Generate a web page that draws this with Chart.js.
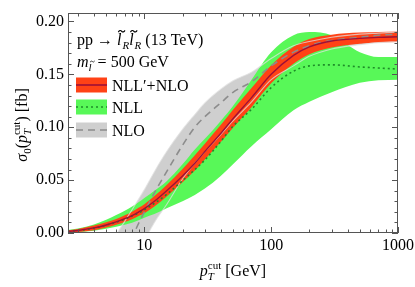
<!DOCTYPE html>
<html>
<head>
<meta charset="utf-8">
<script src="https://cdn.jsdelivr.net/npm/chart.js@4.4.1/dist/chart.umd.min.js"></script>
<style>
  html, body { margin: 0; padding: 0; background: #fff; }
</style>
</head>
<body>
<canvas id="chart" width="415" height="287"></canvas>
<script>

// ---------------------------------------------------------------------------
// Data (pT cut in GeV, sigma_0 in fb)
// ---------------------------------------------------------------------------

var pt = [2.5, 3, 4, 5, 6, 7, 8, 9, 10, 12, 15, 20, 25, 30, 40, 50, 70, 100, 150, 200, 300, 500, 700, 1000];

// NLL'+NLO (red band)
var resumMid  = [0.0015, 0.0024, 0.0048, 0.0076, 0.0105, 0.0135, 0.0165, 0.0198, 0.0230, 0.0300, 0.0400, 0.0540, 0.0660, 0.0770, 0.0940, 0.1080, 0.1280, 0.1500, 0.1680, 0.1760, 0.1815, 0.1840, 0.1850, 0.1855];
var resumLow  = [0.0004, 0.0010, 0.0027, 0.0052, 0.0078, 0.0104, 0.0130, 0.0160, 0.0187, 0.0250, 0.0345, 0.0480, 0.0590, 0.0695, 0.0860, 0.0995, 0.1190, 0.1415, 0.1600, 0.1690, 0.1755, 0.1790, 0.1800, 0.1805];
var resumHigh = [0.0027, 0.0039, 0.0070, 0.0102, 0.0133, 0.0167, 0.0202, 0.0238, 0.0273, 0.0350, 0.0455, 0.0605, 0.0735, 0.0845, 0.1020, 0.1165, 0.1370, 0.1585, 0.1760, 0.1835, 0.1875, 0.1895, 0.1900, 0.1905];

// NLL (green band)
var nllMid  = [0.0015, 0.0024, 0.0046, 0.0074, 0.0102, 0.0130, 0.0160, 0.0190, 0.0220, 0.0280, 0.0365, 0.0495, 0.0600, 0.0690, 0.0865, 0.1010, 0.1170, 0.1375, 0.1530, 0.1580, 0.1590, 0.1570, 0.1560, 0.1550];
var nllLow  = [0.0005, 0.0009, 0.0022, 0.0040, 0.0058, 0.0078, 0.0098, 0.0120, 0.0145, 0.0180, 0.0235, 0.0300, 0.0360, 0.0420, 0.0540, 0.0650, 0.0820, 0.0980, 0.1160, 0.1240, 0.1330, 0.1420, 0.1445, 0.1450];
var nllHigh = [0.0028, 0.0042, 0.0080, 0.0125, 0.0170, 0.0210, 0.0250, 0.0290, 0.0330, 0.0400, 0.0490, 0.0650, 0.0790, 0.0890, 0.1060, 0.1200, 0.1450, 0.1710, 0.1870, 0.1900, 0.1870, 0.1710, 0.1665, 0.1665];

// NLO (gray band)
var nloPt   = [5, 6, 7, 8, 9, 10, 12, 15, 20, 25, 30, 40, 50, 70, 100, 150, 200, 300, 500, 700, 1000];
var nloMid  = [-0.045, -0.030, -0.016, -0.004, 0.009, 0.020, 0.038, 0.058, 0.083, 0.100, 0.110, 0.123, 0.133, 0.143, 0.158, 0.171, 0.177, 0.182, 0.185, 0.187, 0.188];
var nloHigh = [-0.022, -0.002, 0.011, 0.022, 0.032, 0.041, 0.058, 0.077, 0.098, 0.112, 0.123, 0.136, 0.144, 0.152, 0.165, 0.177, 0.181, 0.185, 0.188, 0.189, 0.190];
var nloLow  = [-0.075, -0.058, -0.044, -0.032, -0.021, -0.008, 0.010, 0.027, 0.051, 0.066, 0.077, 0.093, 0.106, 0.124, 0.145, 0.158, 0.167, 0.174, 0.178, 0.180, 0.181];

// axis ticks
var xMajor = [10, 100, 1000];
var xMinor = [3, 4, 5, 6, 7, 8, 9, 20, 30, 40, 50, 60, 70, 80, 90, 200, 300, 400, 500, 600, 700, 800, 900];
var yMajor = [0, 0.05, 0.10, 0.15, 0.20];
var yMinorStep = 0.01;

// ---------------------------------------------------------------------------
// Styles
// ---------------------------------------------------------------------------

var RED = '#ff4216', RED_LINE = '#9e1038';
var GREEN = '#58f858', GREEN_LINE = '#1e8c28';
var GRAY = '#cfcfcf', GRAY_LINE = '#8c8c8c', GRAY_EDGE = 'rgba(225,225,225,0.75)';
var FRAME = '#555';
var SERIF = '"Liberation Serif", "DejaVu Serif", serif';

function xy(xs, ys) {
  return xs.map(function (x, i) { return { x: x, y: ys[i] }; });
}

function line(data, color, width, dash, order, fill, bg) {
  return {
    data: data,
    borderColor: color,
    borderWidth: width,
    borderDash: dash || [],
    backgroundColor: bg || 'transparent',
    fill: fill === undefined ? false : fill,
    pointRadius: 0,
    cubicInterpolationMode: 'monotone',
    order: order
  };
}

var datasets = [
  line(xy(pt, resumMid), RED_LINE, 1.4, null, 0),              // 0
  line(xy(pt, nllMid), GREEN_LINE, 1.6, [2, 3], 1),            // 1
  line(xy(nloPt, nloMid), GRAY_LINE, 1.6, [7, 5], 2),          // 2
  line(xy(nloPt, nloHigh), GRAY_EDGE, 1.1, null, 3),           // 3
  line(xy(nloPt, nloLow), GRAY_EDGE, 1.1, null, 3),            // 4
  line(xy(pt, resumLow), 'transparent', 0, null, 5),           // 5
  line(xy(pt, resumHigh), 'transparent', 0, null, 5, 5, RED),  // 6
  line(xy(pt, nllLow), 'transparent', 0, null, 6),             // 7
  line(xy(pt, nllHigh), 'transparent', 0, null, 6, 7, GREEN),  // 8
  line(xy(nloPt, nloLow), 'transparent', 0, null, 7),          // 9
  line(xy(nloPt, nloHigh), 'transparent', 0, null, 7, 9, GRAY) // 10
];

// ---------------------------------------------------------------------------
// Text with sub/superscripts (and a drawn tilde), on the canvas
// ---------------------------------------------------------------------------

function fontOf(p) {
  return (p.it ? 'italic ' : '') + (p.size || 16) + 'px ' + SERIF;
}

function drawTilde(ctx, cx, top, size) {
  let w = size * 0.42, a = size * 0.055;
  let x0 = cx - w / 2;
  ctx.save();
  ctx.lineWidth = size * 0.07;
  ctx.strokeStyle = ctx.fillStyle;
  ctx.beginPath();
  ctx.moveTo(x0, top + a);
  ctx.quadraticCurveTo(x0 + w * 0.25, top - a * 2, x0 + w * 0.5, top);
  ctx.quadraticCurveTo(x0 + w * 0.75, top + a * 2, x0 + w, top - a);
  ctx.stroke();
  ctx.restore();
}

function drawRich(ctx, x, y, parts, align) {
  let w = 0, prev = null;
  parts.forEach(function (p) {
    ctx.font = fontOf(p);
    p.w = ctx.measureText(p.t).width + (p.pad || 0);
    if (p.stack && prev) { w += Math.max(0, p.w - prev.w); } else { w += p.w; }
    prev = p;
  });
  let cx = align === 'center' ? x - w / 2 : x;
  prev = null;
  parts.forEach(function (p) {
    ctx.font = fontOf(p);
    let s = p.size || 16;
    if (p.stack && prev) {
      cx -= prev.w;
      ctx.fillText(p.t, cx, y + (p.dy || 0));
      cx += Math.max(prev.w, p.w);
    } else {
      ctx.fillText(p.t, cx, y + (p.dy || 0));
      if (p.tilde) drawTilde(ctx, cx + p.w / 2 + s * 0.12, y + (p.dy || 0) - s * 0.86, s);
      cx += p.w;
    }
    prev = p;
  });
}

function ptCut() {
  return [
    { t: 'p', it: true },
    { t: 'T', it: true, size: 11, dy: 4 },
    { t: 'cut', size: 11, dy: -7, stack: true }
  ];
}

// ---------------------------------------------------------------------------
// Frame, inward ticks, legend and labels
// ---------------------------------------------------------------------------

var decor = {
  id: 'decor',
  afterDraw: function (chart) {
    let ctx = chart.ctx;
    let a = chart.chartArea;
    let xs = chart.scales.x, ys = chart.scales.y;

    ctx.save();
    ctx.strokeStyle = FRAME;
    ctx.lineWidth = 1;
    ctx.strokeRect(a.left + 0.5, a.top + 0.5, a.right - a.left - 1, a.bottom - a.top - 1);

    ctx.beginPath();
    function xTick(v, len) {
      let px = Math.round(xs.getPixelForValue(v)) + 0.5;
      ctx.moveTo(px, a.bottom); ctx.lineTo(px, a.bottom - len);
      ctx.moveTo(px, a.top); ctx.lineTo(px, a.top + len);
    }
    function yTick(v, len) {
      let py = Math.round(ys.getPixelForValue(v)) + 0.5;
      ctx.moveTo(a.left, py); ctx.lineTo(a.left + len, py);
      ctx.moveTo(a.right, py); ctx.lineTo(a.right - len, py);
    }
    xMajor.forEach(function (v) { xTick(v, 6); });
    xMinor.forEach(function (v) { xTick(v, 3.5); });
    for (let v = 0; v <= ys.max + 1e-9; v += yMinorStep) {
      let major = Math.abs(v / 0.05 - Math.round(v / 0.05)) < 1e-6;
      yTick(v, major ? 6 : 3.5);
    }
    ctx.stroke();

    // legend swatches
    let sx = 76, sw = 31, sh = 15;
    let rows = [85, 107, 130];
    ctx.fillStyle = RED; ctx.fillRect(sx, rows[0] - sh / 2, sw, sh);
    ctx.fillStyle = GREEN; ctx.fillRect(sx, rows[1] - sh / 2, sw, sh);
    ctx.fillStyle = GRAY; ctx.fillRect(sx, rows[2] - sh / 2, sw, sh);
    ctx.lineWidth = 1.6;
    ctx.strokeStyle = RED_LINE; ctx.setLineDash([]);
    ctx.beginPath(); ctx.moveTo(sx, rows[0]); ctx.lineTo(sx + sw, rows[0]); ctx.stroke();
    ctx.strokeStyle = GREEN_LINE; ctx.setLineDash([2, 3]);
    ctx.beginPath(); ctx.moveTo(sx, rows[1]); ctx.lineTo(sx + sw, rows[1]); ctx.stroke();
    ctx.strokeStyle = GRAY_LINE; ctx.setLineDash([7, 5]);
    ctx.beginPath(); ctx.moveTo(sx, rows[2]); ctx.lineTo(sx + sw, rows[2]); ctx.stroke();
    ctx.setLineDash([]);

    ctx.fillStyle = '#000';
    ctx.textBaseline = 'alphabetic';
    ctx.textAlign = 'left';
    drawRich(ctx, 112, rows[0] + 6, [{ t: 'NLL\u2032+NLO' }]);
    drawRich(ctx, 112, rows[1] + 6, [{ t: 'NLL' }]);
    drawRich(ctx, 112, rows[2] + 6, [{ t: 'NLO' }]);

    // process and mass
    drawRich(ctx, 77, 45, [
      { t: 'pp \u2192 ' },
      { t: 'l', it: true, tilde: true, pad: 1 },
      { t: 'R', it: true, size: 11, dy: 4 },
      { t: 'l', it: true, tilde: true, pad: 1 },
      { t: 'R', it: true, size: 11, dy: 4 },
      { t: ' (13 TeV)' }
    ]);
    drawRich(ctx, 77, 67, [
      { t: 'm', it: true },
      { t: 'l', it: true, size: 11, dy: 4, tilde: true, pad: 2 },
      { t: ' = 500 GeV' }
    ]);

    // axis titles
    drawRich(ctx, (a.left + a.right) / 2, 276, ptCut().concat([{ t: ' [GeV]' }]), 'center');

    ctx.translate(27, 125);
    ctx.rotate(-Math.PI / 2);
    drawRich(ctx, 0, 0, [
      { t: '\u03c3', it: true },
      { t: '0', size: 11, dy: 4 },
      { t: '(' }
    ].concat(ptCut()).concat([{ t: ') [fb]' }]), 'center');

    ctx.restore();
  }
};

// ---------------------------------------------------------------------------
// Chart
// ---------------------------------------------------------------------------

var chart = new Chart(document.getElementById('chart').getContext('2d'), {
  type: 'line',
  data: { datasets: datasets },
  options: {
    responsive: false,
    animation: false,
    devicePixelRatio: 1,
    layout: { padding: { top: 13, right: 17, left: 0, bottom: 0 } },
    plugins: { legend: { display: false }, tooltip: { enabled: false } },
    elements: { line: { tension: 0.4 } },
    scales: {
      x: {
        type: 'logarithmic',
        min: 2.5,
        max: 1000,
        grid: { display: false, drawTicks: false },
        border: { display: false },
        afterBuildTicks: function (scale) {
          scale.ticks = xMajor.map(function (v) { return { value: v }; });
        },
        afterFit: function (scale) {
          scale.height = 54;
          scale.paddingLeft = 0;
          scale.paddingRight = 0;
        },
        ticks: {
          autoSkip: false,
          maxRotation: 0,
          padding: 3,
          color: '#000',
          font: { family: SERIF, size: 16 },
          callback: function (v) { return String(v); }
        }
      },
      y: {
        min: 0,
        max: 0.208,
        grid: { display: false, drawTicks: false },
        border: { display: false },
        afterBuildTicks: function (scale) {
          scale.ticks = yMajor.map(function (v) { return { value: v }; });
        },
        afterFit: function (scale) {
          scale.width = 68;
          scale.paddingTop = 0;
          scale.paddingBottom = 0;
        },
        ticks: {
          padding: 4,
          color: '#000',
          font: { family: SERIF, size: 16 },
          callback: function (v) { return v.toFixed(2); }
        }
      }
    }
  },
  plugins: [decor]
});

</script>
</body>
</html>
